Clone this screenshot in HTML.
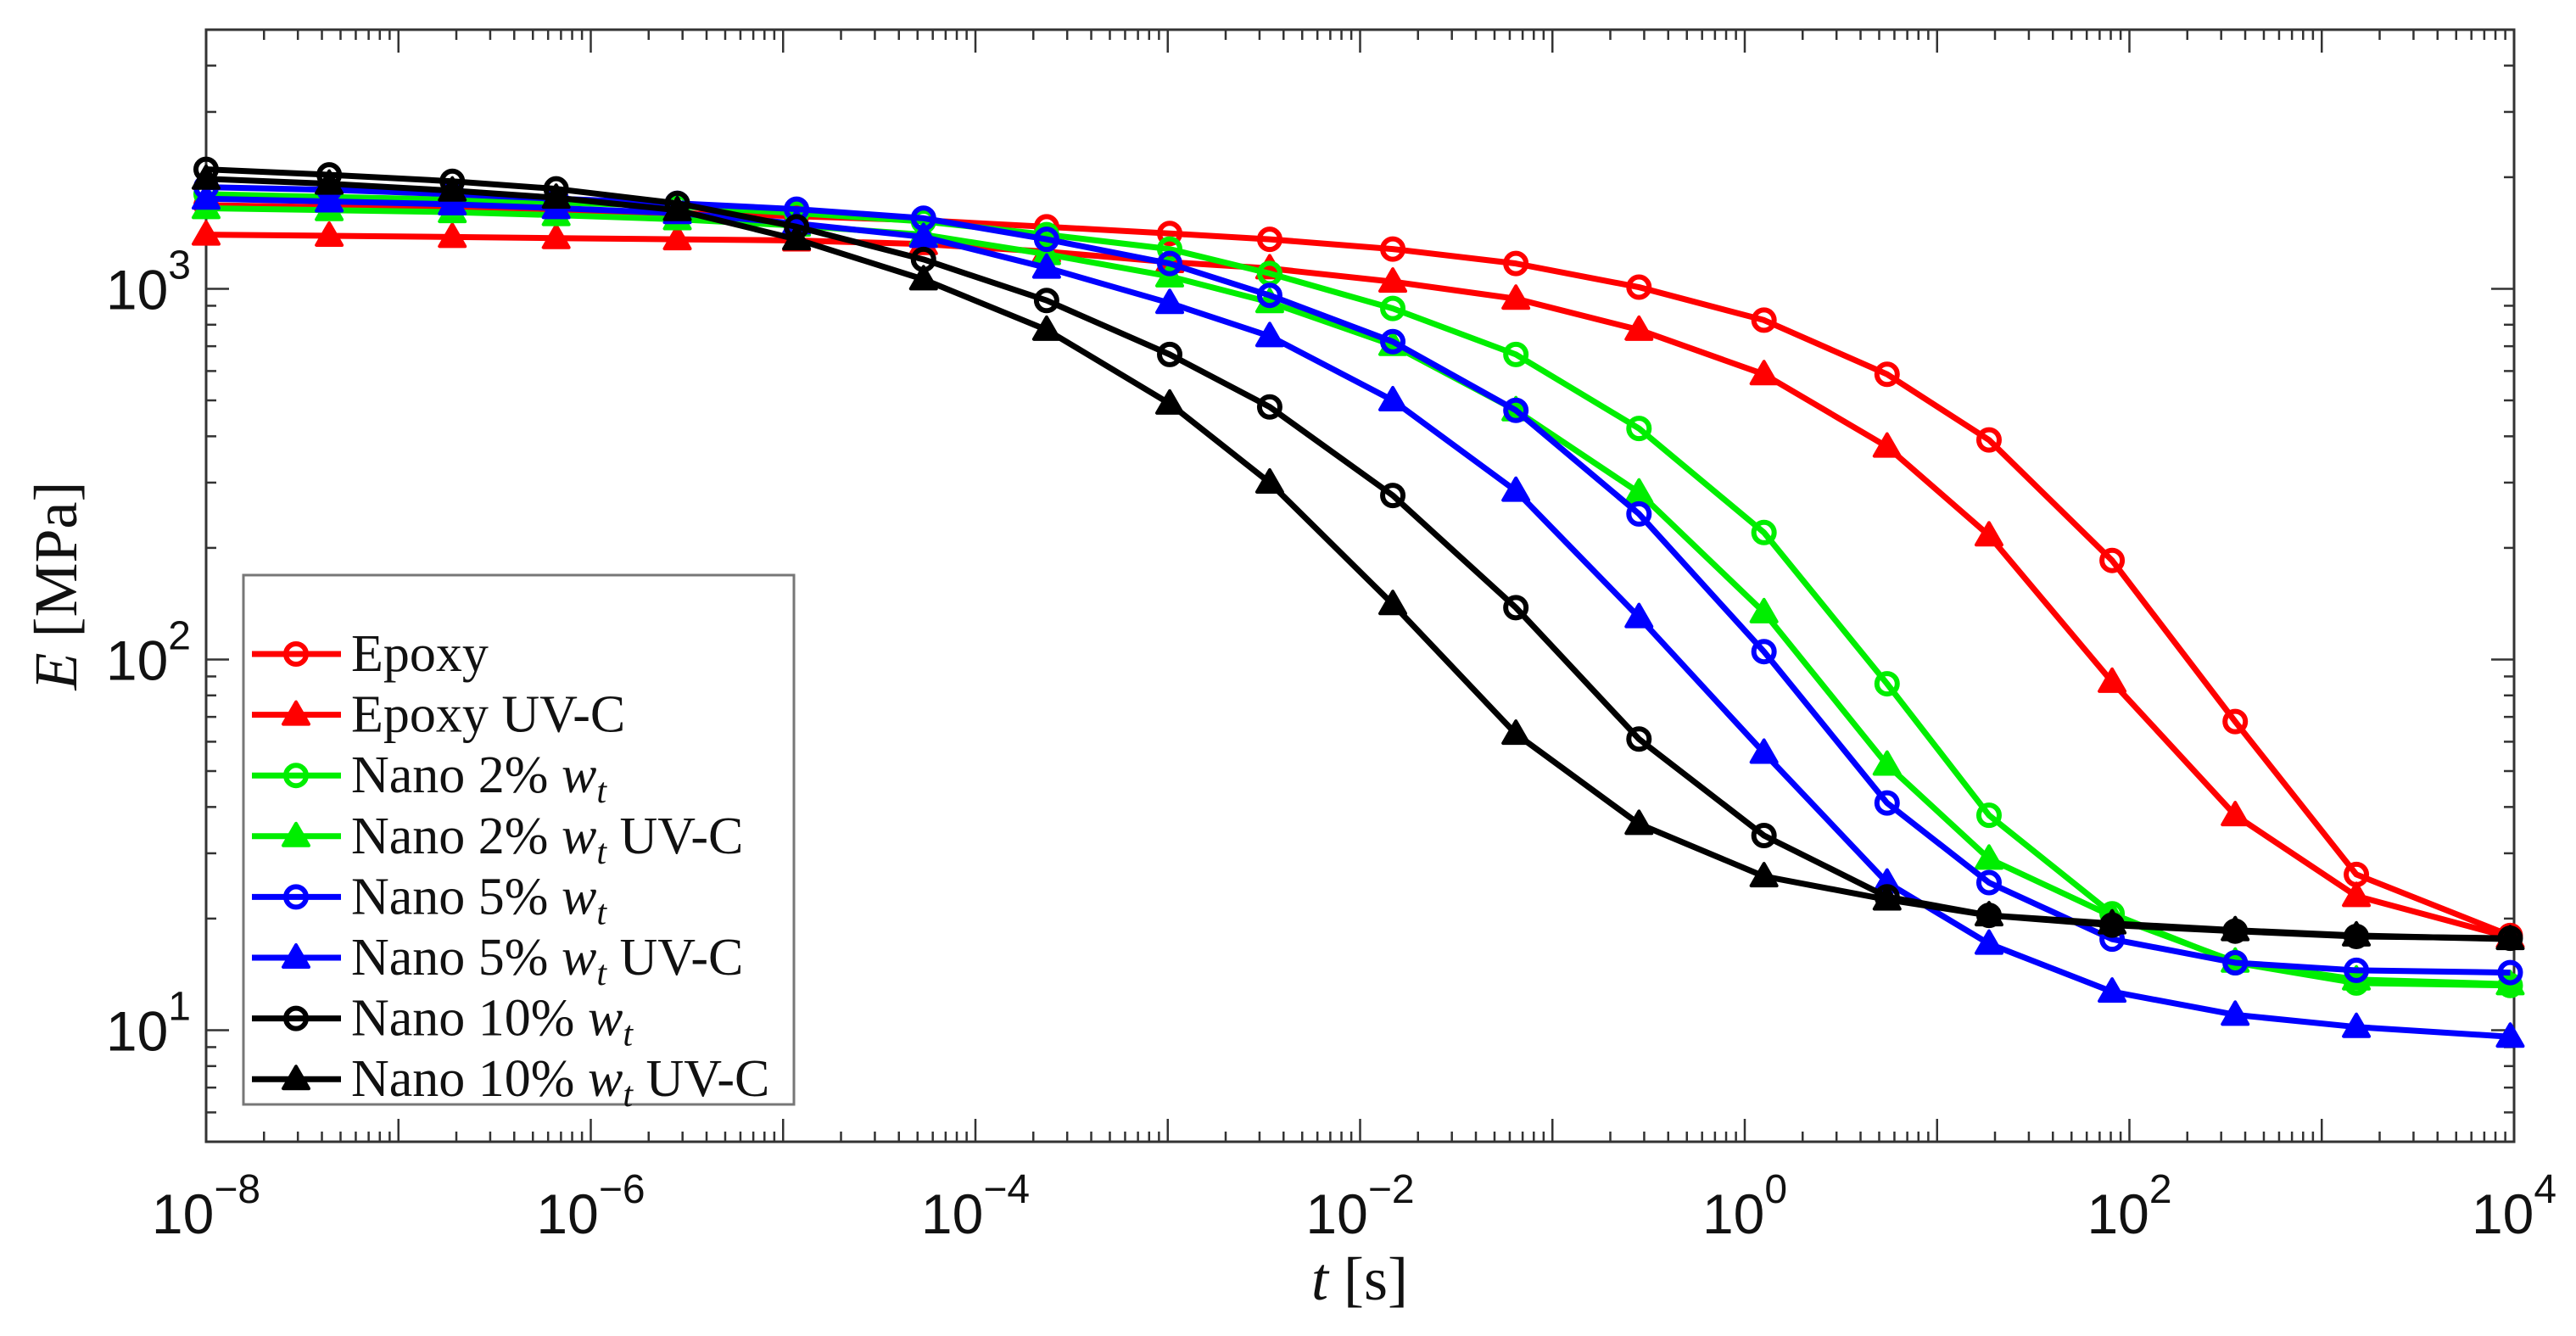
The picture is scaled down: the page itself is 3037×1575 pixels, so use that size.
<!DOCTYPE html>
<html><head><meta charset="utf-8"><style>
html,body{margin:0;padding:0;background:#fff;}
svg{display:block;}
</style></head><body>
<svg id="chart" width="3037" height="1575" viewBox="0 0 3037 1575" xmlns="http://www.w3.org/2000/svg">
<rect x="0" y="0" width="3037" height="1575" fill="#fff"/>
<g id="plot"></g>
</svg>
<script>
const tLog = [-8,-7.36,-6.72,-6.18,-5.55,-4.93,-4.27,-3.63,-2.99,-2.47,-1.83,-1.19,-0.55,0.10,0.74,1.27,1.91,2.55,3.18,3.98];
const epoxy      = [1680,1660,1640,1620,1600,1570,1530,1470,1410,1360,1280,1170,1010,823,588,391,185,68,26.3,18];
const epoxyUV    = [1400,1390,1380,1370,1360,1350,1320,1260,1180,1135,1045,940,775,588,375,216,87,38,23,17.8];
const nano2      = [1800,1770,1740,1710,1670,1600,1520,1400,1280,1100,885,665,420,220,86,38,20.6,15.2,13.4,13.2];
const nano2UV    = [1650,1630,1610,1580,1540,1480,1400,1240,1080,920,705,470,282,134,52,29,20.3,15.3,13.7,13.3];
const nano5      = [1880,1850,1800,1750,1700,1640,1550,1360,1170,960,720,470,247,105,41,25,17.6,15.2,14.5,14.3];
const nano5UV    = [1750,1720,1690,1650,1600,1500,1380,1140,915,745,500,285,130,56,25,17.1,12.7,11,10.2,9.6];
const nano10     = [2100,2030,1950,1860,1700,1470,1200,930,665,480,277,138,61,33.5,22.9,20.4,19.2,18.5,17.9,17.7];
const nano10UV   = [1980,1920,1840,1760,1630,1360,1060,775,490,300,141,63,36,26,22.5,20.4,19.4,18.6,18,17.6];
const seriesNames = ["Epoxy","Epoxy UV-C","Nano 2%","Nano 2% UV-C","Nano 5%","Nano 5% UV-C","Nano 10%","Nano 10% UV-C"];
const xTickExps = [-8,-6,-4,-2,0,2,4];
const yTickExps = [1,2,3];

const L=243,R=2964,T=35,B=1346;
const xMin=-8,xMax=4,yMin=Math.log10(5),yMax=Math.log10(5000);
const X=lg=>L+(lg-xMin)/(xMax-xMin)*(R-L);
const Y=v=>B-(Math.log10(v)-yMin)/(yMax-yMin)*(B-T);
const NS="http://www.w3.org/2000/svg";
const g=document.getElementById('plot');
function mk(tag,attrs,parent){const e=document.createElementNS(NS,tag);for(const k in attrs)e.setAttribute(k,attrs[k]);(parent||g).appendChild(e);return e;}

const ax=mk('g',{});


for(let d=-8;d<=4;d++){
  for(let m=1;m<=9;m++){
    const lg=d+Math.log10(m); if(lg>4.0001)continue;
    const x=X(lg), len=m===1?27:12;
    mk('line',{x1:x,y1:B,x2:x,y2:B-len,stroke:'#333','stroke-width':2.5},ax);
    mk('line',{x1:x,y1:T,x2:x,y2:T+len,stroke:'#333','stroke-width':2.5},ax);
  }
}
for(let d=0;d<=3;d++){
  for(let m=1;m<=9;m++){
    const v=m*Math.pow(10,d); if(v<5||v>5000)continue;
    const y=Y(v), len=m===1?27:12;
    mk('line',{x1:L,y1:y,x2:L+len,y2:y,stroke:'#333','stroke-width':2.5},ax);
    mk('line',{x1:R,y1:y,x2:R-len,y2:y,stroke:'#333','stroke-width':2.5},ax);
  }
}
mk('rect',{x:L,y:T,width:R-L,height:B-T,fill:'none',stroke:'#333','stroke-width':3},ax);

xTickExps.forEach(e=>{
  const t=mk('text',{x:X(e),y:1454,'text-anchor':'middle','font-family':'Liberation Sans, sans-serif','font-size':66,fill:'#111'});
  
  
  const a=mk('tspan',{},t);a.textContent='10';
  const b=mk('tspan',{dy:-36,'font-size':48},t);b.textContent=(e<0?'\u2212':'')+Math.abs(e);
});
yTickExps.forEach(e=>{
  const t=mk('text',{x:225,y:Y(Math.pow(10,e))+24,'text-anchor':'end','font-family':'Liberation Sans, sans-serif','font-size':66,fill:'#111'});
  
  
  const a=mk('tspan',{},t);a.textContent='10';
  const b=mk('tspan',{dy:-36,'font-size':48},t);b.textContent=String(e);
});
const xt=mk('text',{x:1603,y:1532,'text-anchor':'middle','font-family':'Liberation Serif, serif','font-size':72,fill:'#111'});


xt.innerHTML='<tspan font-style="italic">t</tspan> [s]';
const yt=mk('text',{x:0,y:0,transform:'translate(90,'+((T+B)/2)+') rotate(-90)','text-anchor':'middle','font-family':'Liberation Serif, serif','font-size':72,fill:'#111'});


yt.innerHTML='<tspan font-style="italic">E</tspan> [MPa]';

const colors=['#ff0000','#ff0000','#00ee00','#00ee00','#0000ff','#0000ff','#000000','#000000'];
const markers=['o','^','o','^','o','^','o','^'];
const data=[epoxy,epoxyUV,nano2,nano2UV,nano5,nano5UV,nano10,nano10UV];
function marker(type,x,y,c,parent){
  if(type==='o') mk('circle',{cx:x,cy:y,r:12,fill:'none',stroke:c,'stroke-width':6},parent);
  else mk('polygon',{points:`${x},${y-15} ${x-15},${y+11} ${x+15},${y+11}`,fill:c,stroke:c,'stroke-width':4,'stroke-linejoin':'round'},parent);
}
[0,1,2,3,4,5,6,7].forEach(i=>{
  const sg=mk('g',{});
  
  
  const pts=tLog.map((lg,k)=>X(lg)+','+Y(data[i][k])).join(' ');
  mk('polyline',{points:pts,fill:'none',stroke:colors[i],'stroke-width':7,'stroke-linejoin':'round'},sg);
  tLog.forEach((lg,k)=>marker(markers[i],X(lg),Y(data[i][k]),colors[i],sg));
});

const lg=mk('g',{});


mk('rect',{x:287,y:678,width:649,height:624,fill:'#fff',stroke:'#777','stroke-width':3},lg);
const sub='<tspan font-style="italic">w</tspan><tspan font-style="italic" font-size="42" dy="12">t</tspan>';
const labels=['Epoxy','Epoxy UV-C','Nano 2% '+sub,'Nano 2% '+sub+'<tspan dy="-12"> UV-C</tspan>','Nano 5% '+sub,'Nano 5% '+sub+'<tspan dy="-12"> UV-C</tspan>','Nano 10% '+sub,'Nano 10% '+sub+'<tspan dy="-12"> UV-C</tspan>'];
labels.forEach((lab,i)=>{
  const y=771+i*71.6;
  const e=mk('g',{},lg);
  
  
  mk('line',{x1:297,y1:y,x2:402,y2:y,stroke:colors[i],'stroke-width':7},e);
  marker(markers[i],349,y,colors[i],e);
  const t=mk('text',{x:414,y:y+20,'font-family':'Liberation Serif, serif','font-size':62,fill:'#111'},e);
  t.innerHTML=lab;
});
</script>
</body></html>
